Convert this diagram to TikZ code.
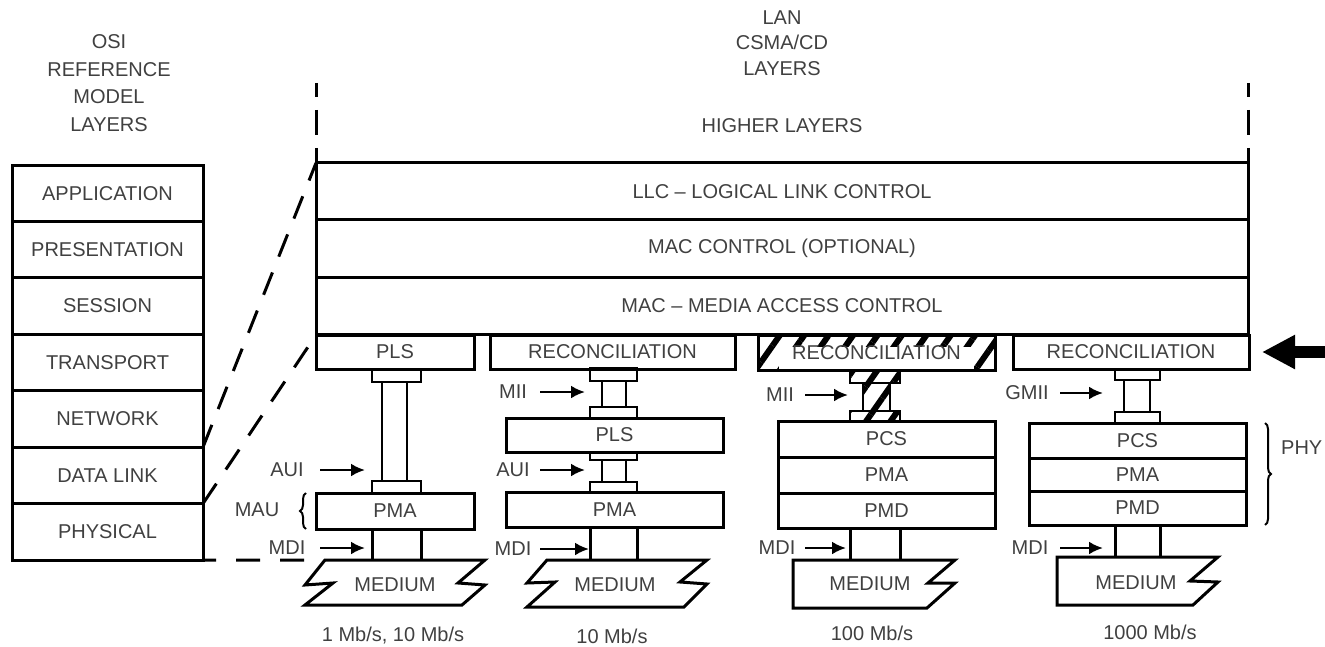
\documentclass[tikz,border=0pt]{standalone}
\usepackage{fontspec}
\setmainfont{Liberation Sans}
\usetikzlibrary{arrows.meta,positioning,decorations.pathreplacing,patterns.meta}

\begin{document}
\begin{tikzpicture}[x=1pt, y=-1pt, >=Latex,
    every node/.style={font=\fontsize{20}{26}\selectfont, text=black!75},
    layerbox/.style={draw, line width=3pt, inner sep=0pt, outer sep=0pt},
    stub/.style={layerbox, line width=2.6pt},
    hatch/.style={pattern={Lines[angle=55,distance=20pt,line width=6pt]}},
    ifarrow/.style={line width=2.6pt, -{Latex[length=14pt,width=13pt]}},
    mapline/.style={line width=3pt, dash pattern=on 24pt off 18pt},
    medium/.style={line width=3pt, line join=miter},
    layerbrace/.style={decorate, decoration={brace, amplitude=6pt}, line width=2pt}]

    \useasboundingbox (0,0) rectangle (1325,647);

    % Titles
    \node[align=center, font=\fontsize{20}{27.5}\selectfont] (osititle) at (109,83) {OSI\\REFERENCE\\MODEL\\LAYERS};
    \node[align=center, font=\fontsize{20}{25.5}\selectfont] (lantitle) at (782,43) {LAN\\CSMA/CD\\LAYERS};

    % OSI reference model
    \foreach \lab [count=\i] in {APPLICATION,PRESENTATION,SESSION,TRANSPORT,NETWORK,DATA LINK,PHYSICAL}
        \node[layerbox, minimum width=191, minimum height=56.43] (osi\i) at (107.5, {136.8+56.43*\i}) {\lab};

    % Higher layers and the common LAN layers
    \node (higher) at (782,126) {HIGHER LAYERS};
    \node[layerbox, minimum width=932, minimum height=57] (llc) at (782,191.5) {LLC -- LOGICAL LINK CONTROL};
    \node[layerbox, minimum width=932, minimum height=57] (macctl) at (782,248.5) {MAC CONTROL (OPTIONAL)};
    \node[layerbox, minimum width=932, minimum height=57] (mac) at (782,305.5) {MAC -- MEDIA ACCESS CONTROL};
    \coordinate (hlL) at (316,83);
    \coordinate (hlR) at (1248,83);
    \draw[line width=3pt, dash pattern=on 14pt off 13pt on 25pt off 13pt] (hlL) -- (llc.north west);
    \draw[line width=3pt, dash pattern=on 14pt off 13pt on 25pt off 13pt] (hlR) -- (llc.north east);

    % Sublayer row under the MAC
    \node[layerbox, minimum width=158, minimum height=34] (pls1) at (395,352) {PLS};
    \node[layerbox, minimum width=245, minimum height=34] (rec2) at (612.5,352) {RECONCILIATION};
    \node[layerbox, hatch, minimum width=237, minimum height=35] (rec3) at (876.5,352.5) {};
    \node[fill=white, inner sep=0pt, minimum width=195, minimum height=22] (rec3in) at (876.5,358) {};
    \draw[line width=3pt] (rec3.south west) rectangle (rec3.north east);
    \node (rec3txt) at (876.5,353) {RECONCILIATION};
    \node[layerbox, minimum width=236, minimum height=34] (rec4) at (1131,352) {RECONCILIATION};

    % Mapping of the OSI layers onto the LAN layers
    \coordinate (physend) at (304,560);
    \draw[mapline, dash pattern=on 24pt off 17pt] (osi5.south east) -- (llc.north west);
    \draw[mapline, dash pattern=on 24pt off 17pt] (osi6.south east) -- (pls1.north west);
    \draw[mapline, dash pattern=on 24pt off 20pt] (physend) -- (osi7.south east);

    % 1 Mb/s, 10 Mb/s
    \node[stub, minimum width=49, minimum height=13] (s1a) at (396.5,375.5) {};
    \node[stub, minimum width=25, minimum height=99] (c1) at (394.5,431.5) {};
    \node[stub, minimum width=49, minimum height=12] (s1b) at (396.5,487) {};
    \node[layerbox, minimum width=158, minimum height=36] (pma1) at (395,511) {PMA};
    \draw[medium] (325,560) -- (485,560) -- (458,583) -- (485,585) -- (462,605) -- (305,605) -- (333,583) -- (305,585) -- cycle;
    \draw[medium] (s1b.west |- pma1.south) -- (s1b.west |- physend);
    \draw[medium] (s1b.east |- pma1.south) -- (s1b.east |- physend);
    \node (med1) at (395,585) {MEDIUM};
    \node (rate1) at (393,636) {1 Mb/s, 10 Mb/s};
    \node (aui1) at (287,470) {AUI};
    \node (mau1) at (257,510) {MAU};
    \node (mdi1) at (287,548) {MDI};
    \draw[ifarrow, shorten <=33pt, shorten >=17pt] (aui1.center) -- (aui1.center -| c1.west);
    \draw[ifarrow, shorten <=33pt, shorten >=7pt] (mdi1.center) -- (mdi1.center -| s1b.west);
    \draw[layerbrace] ([xshift=-10pt]pma1.south west) -- ([xshift=-10pt]pma1.north west);

    % 10 Mb/s
    \node[stub, minimum width=47, minimum height=13] (s2a) at (613.5,374.5) {};
    \node[stub, minimum width=24, minimum height=26] (c2a) at (614,394) {};
    \node[stub, minimum width=47, minimum height=11] (s2b) at (613.5,412.5) {};
    \node[layerbox, minimum width=217, minimum height=34] (pls2) at (614.5,435) {PLS};
    \node[stub, minimum width=47, minimum height=8] (s2c) at (613.5,456) {};
    \node[stub, minimum width=24, minimum height=22] (c2b) at (614,471) {};
    \node[stub, minimum width=47, minimum height=10] (s2d) at (613.5,487) {};
    \node[layerbox, minimum width=217, minimum height=35] (pma2) at (614.5,509.5) {PMA};
    \draw[medium] (547,560) -- (707,560) -- (680,582) -- (707,584) -- (684,607) -- (527,607) -- (555,582) -- (527,583) -- cycle;
    \draw[medium] (s2d.west |- pma2.south) -- (s2d.west |- physend);
    \draw[medium] (s2d.east |- pma2.south) -- (s2d.east |- physend);
    \node (med2) at (615,585) {MEDIUM};
    \node (rate2) at (612,636) {10 Mb/s};
    \node (mii2) at (513,392) {MII};
    \node (aui2) at (513,470) {AUI};
    \node (mdi2) at (513,549) {MDI};
    \draw[ifarrow, shorten <=27pt, shorten >=17pt] (mii2.center) -- (mii2.center -| c2a.west);
    \draw[ifarrow, shorten <=27pt, shorten >=17pt] (aui2.center) -- (aui2.center -| c2b.west);
    \draw[ifarrow, shorten <=27pt, shorten >=1pt] (mdi2.center) -- (mdi2.center -| s2d.west);

    % 100 Mb/s
    \node[stub, hatch, minimum width=50, minimum height=13] (s3a) at (875,376.5) {};
    \node[stub, hatch, minimum width=27, minimum height=28] (c3) at (876.5,397) {};
    \node[stub, hatch, minimum width=50, minimum height=10] (s3b) at (875,416) {};
    \node[layerbox, minimum width=217, minimum height=36] (pcs3) at (886.5,439) {PCS};
    \node[layerbox, minimum width=217, minimum height=36] (pma3) at (886.5,475) {PMA};
    \node[layerbox, minimum width=217, minimum height=35] (pmd3) at (886.5,510.5) {PMD};
    \draw[medium] (793,560) -- (955,560) -- (928,583) -- (955,583) -- (927,608) -- (793,608) -- cycle;
    \draw[medium] (s3b.west |- pmd3.south) -- (s3b.west |- physend);
    \draw[medium] (s3b.east |- pmd3.south) -- (s3b.east |- physend);
    \node (med3) at (870,584) {MEDIUM};
    \node (rate3) at (872,633) {100 Mb/s};
    \node (mii3) at (780,395) {MII};
    \node (mdi3) at (777,548) {MDI};
    \draw[ifarrow, shorten <=25pt, shorten >=15pt] (mii3.center) -- (mii3.center -| c3.west);
    \draw[ifarrow, shorten <=28pt, shorten >=4pt] (mdi3.center) -- (mdi3.center -| s3b.west);

    % 1000 Mb/s
    \node[stub, minimum width=45, minimum height=11] (s4a) at (1137.5,374.5) {};
    \node[stub, minimum width=26, minimum height=32] (c4) at (1137,396) {};
    \node[stub, minimum width=45, minimum height=11] (s4b) at (1137.5,417.5) {};
    \node[layerbox, minimum width=217, minimum height=35] (pcs4) at (1137.5,440.5) {PCS};
    \node[layerbox, minimum width=217, minimum height=33] (pma4) at (1137.5,474.5) {PMA};
    \node[layerbox, minimum width=217, minimum height=34] (pmd4) at (1137.5,508) {PMD};
    \coordinate (med4top) at (1137,557);
    \draw[medium] (1057,557) -- (1218,557) -- (1190,581) -- (1218,582) -- (1193,605) -- (1057,605) -- cycle;
    \draw[medium] (s4b.west |- pmd4.south) -- (s4b.west |- med4top);
    \draw[medium] (s4b.east |- pmd4.south) -- (s4b.east |- med4top);
    \node (med4) at (1136,583) {MEDIUM};
    \node (rate4) at (1150,632) {1000 Mb/s};
    \node (gmii4) at (1027,393) {GMII};
    \node (mdi4) at (1030,548) {MDI};
    \draw[ifarrow, shorten <=33pt, shorten >=21pt] (gmii4.center) -- (gmii4.center -| c4.west);
    \draw[ifarrow, shorten <=30pt, shorten >=12pt] (mdi4.center) -- (mdi4.center -| s4b.west);
    \draw[layerbrace] ([xshift=19pt]pcs4.north east) -- ([xshift=19pt]pmd4.south east);
    \node[anchor=west, inner sep=0pt] (phy) at (1281,448) {PHY};

    % Pointer to the reconciliation sublayer
    \coordinate (inarrow) at (1330,352);
    \draw[line width=12pt, -{Triangle[length=33pt,width=32pt]}, shorten >=13pt] (inarrow) -- (rec4.east);
\end{tikzpicture}
\end{document}
